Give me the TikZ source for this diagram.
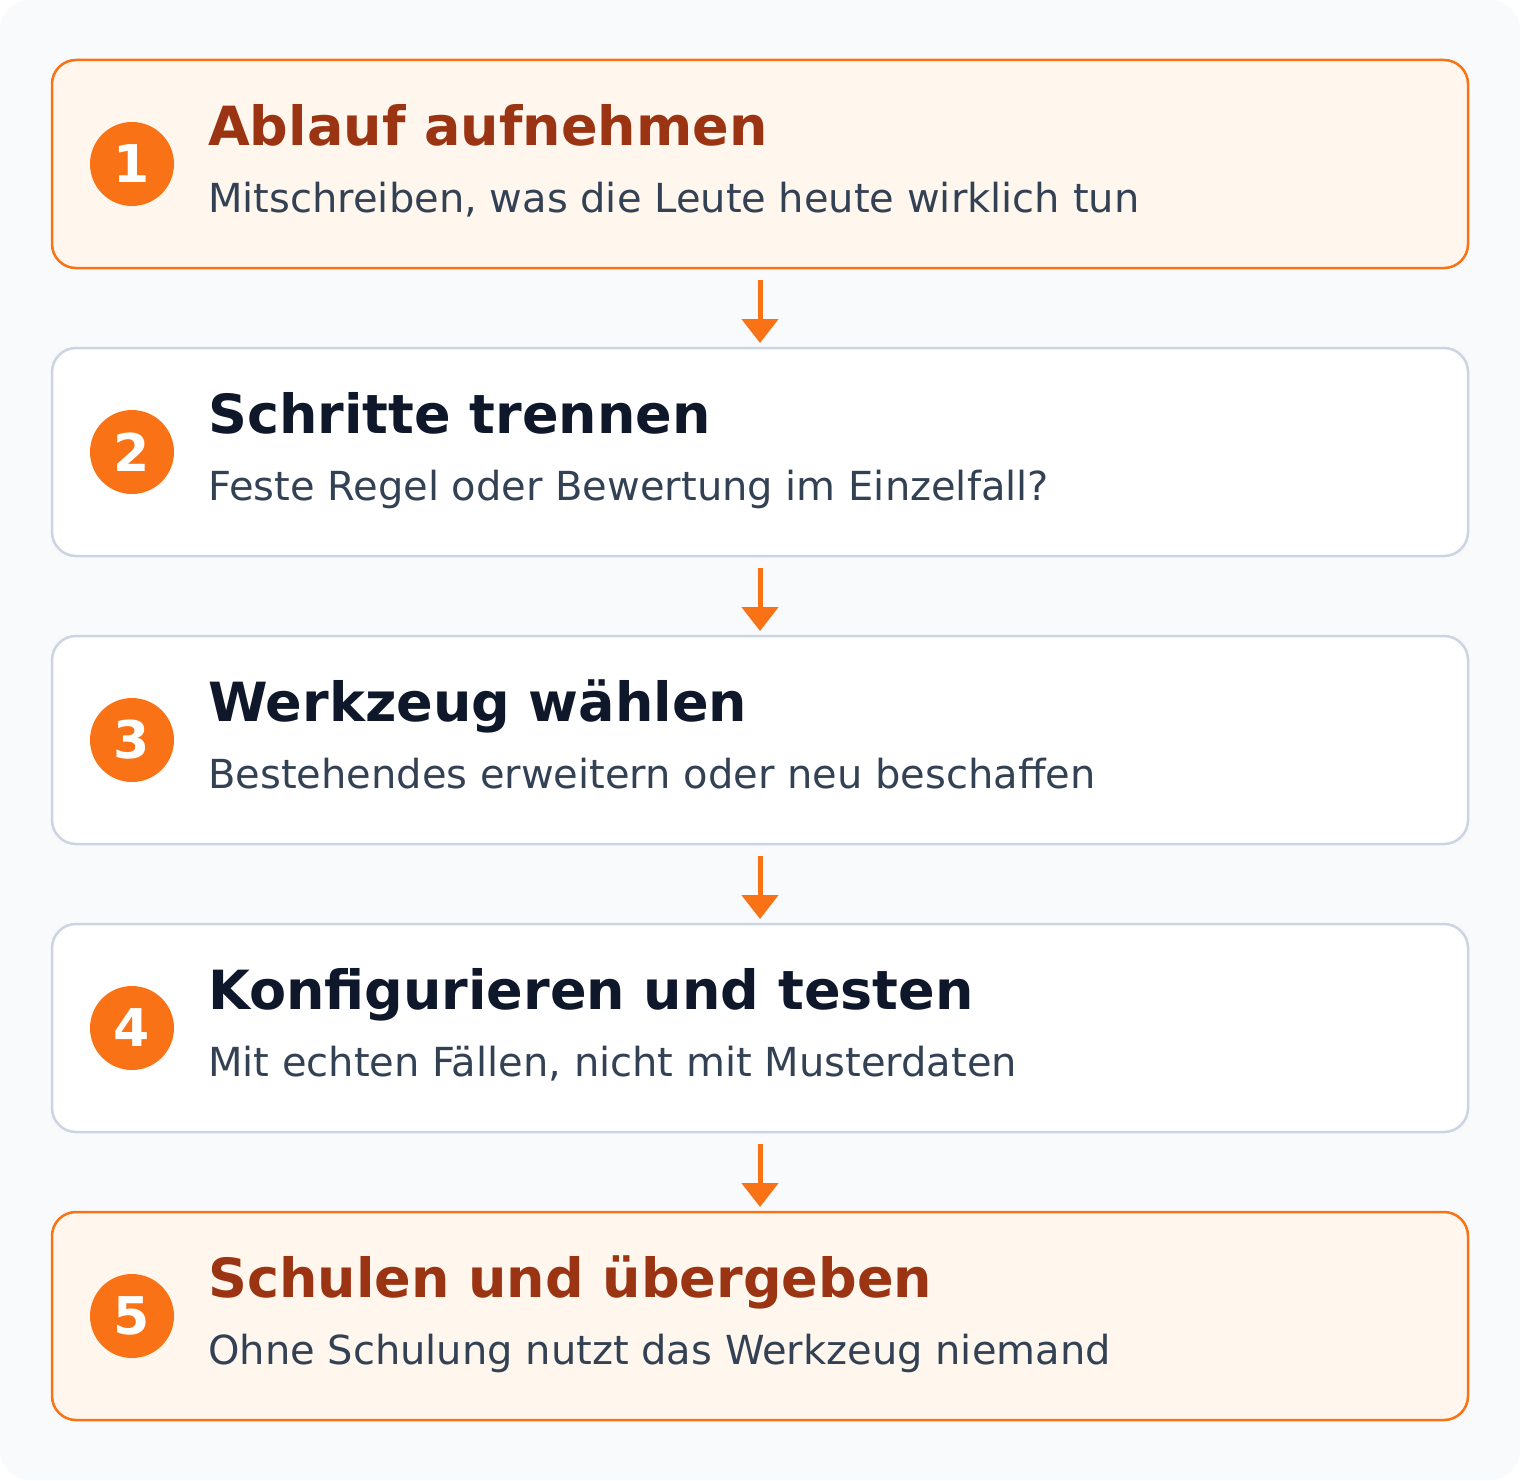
\documentclass[tikz,border=0pt]{standalone}
\usepackage{fontspec}
\setmainfont{DejaVu Sans}
\usetikzlibrary{arrows.meta,calc}
\definecolor{bgc}{HTML}{F8FAFC}
\definecolor{org}{HTML}{F97316}
\definecolor{orgfill}{HTML}{FFF7ED}
\definecolor{grayb}{HTML}{CBD5E1}
\definecolor{titleorg}{HTML}{9A3412}
\definecolor{titledark}{HTML}{0F172A}
\definecolor{subc}{HTML}{334155}
\tikzset{
  x=1pt, y=-1pt,
  boxbase/.style={minimum width=1416pt, minimum height=208pt, inner sep=0pt, outer sep=0pt, anchor=north west, rounded corners=24pt, line width=2.5pt},
  hibox/.style={boxbase, draw=org, fill=orgfill},
  plainbox/.style={boxbase, draw=grayb, fill=white},
  numcirc/.style={circle, fill=org, minimum size=84pt, inner sep=0pt, outer sep=0pt, text=white, font=\fontsize{52}{52}\selectfont\bfseries},
  ttl/.style={anchor=base west, inner sep=0pt, font=\fontsize{54}{54}\selectfont\bfseries},
  sub/.style={anchor=base west, inner sep=0pt, text=subc, font=\fontsize{40}{40}\selectfont},
  flow/.style={draw=org, line width=5pt, -{Triangle[width=36pt,length=24pt]}}
}
\begin{document}
\begin{tikzpicture}
\useasboundingbox (0,0) rectangle (1520,1480);
\fill[white] (0,0) rectangle (1520,1480);
\fill[bgc, rounded corners=30pt] (0,0) rectangle (1520,1480);
\foreach \i/\st/\tc/\t/\s in {
 1/hibox/titleorg/{Ablauf aufnehmen}/{Mitschreiben, was die Leute heute wirklich tun},
 2/plainbox/titledark/{Schritte trennen}/{Feste Regel oder Bewertung im Einzelfall?},
 3/plainbox/titledark/{Werkzeug wählen}/{Bestehendes erweitern oder neu beschaffen},
 4/plainbox/titledark/{Konfigurieren und testen}/{Mit echten Fällen, nicht mit Musterdaten},
 5/hibox/titleorg/{Schulen und übergeben}/{Ohne Schulung nutzt das Werkzeug niemand}}{
  \pgfmathsetmacro{\top}{60+288*(\i-1)}
  \node[\st] (box\i) at (52,\top) {};
  \node[numcirc] (c\i) at (132,\top+104) {\i};
  \node[ttl, text=\tc] (t\i) at (208,\top+85.5) {\t};
  \node[sub] (s\i) at (208,\top+152) {\s};
}
\foreach \i/\j in {1/2,2/3,3/4,4/5}{
  \draw[flow] ($(box\i.south)+(0,12)$) -- ($(box\j.north)+(0,-5)$);
}
\end{tikzpicture}
\end{document}
